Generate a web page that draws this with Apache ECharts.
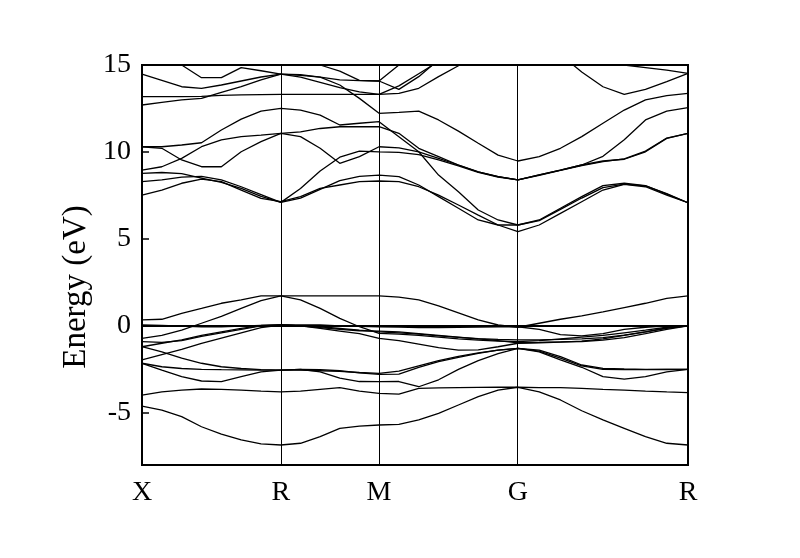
<!DOCTYPE html>
<html>
<head>
<meta charset="utf-8">
<script src="https://cdn.jsdelivr.net/npm/echarts@6/dist/echarts.min.js"></script>
<style>
  html, body { margin: 0; padding: 0; background: #fff; }
  #main { width: 800px; height: 558px; }
</style>
</head>
<body>
<div id="main"></div>
<script>
// k path X-R-M-G-R (distances in 2pi/a), sampling grid
const kPath = [0, 0.1010, 0.2020, 0.3030, 0.4041, 0.5051, 0.6061, 0.7071,
  0.8071, 0.9071, 1.0071, 1.1071, 1.2071,
  1.3081, 1.4091, 1.5101, 1.6112, 1.7122, 1.8132, 1.9142,
  2.0225, 2.1307, 2.2390, 2.3472, 2.4555, 2.5637, 2.6720, 2.7802]
const kTicks = [0, 0.7071, 1.2071, 1.9142, 2.7802]
const kLabels = ['X', 'R', 'M', 'G', 'R']
const energyTicks = [-5, 0, 5, 10, 15]

// conduction bands (eV)
const c1 = [7.52, 7.81, 8.20, 8.44, 8.29, 7.81, 7.33, 7.14, 7.43, 7.91, 8.10, 8.29, 8.33, 8.29, 8.00, 7.52, 6.95, 6.37, 5.80, 5.42, 5.80, 6.47, 7.14, 7.81, 8.14, 8.00, 7.52, 7.08]
const c2 = [8.77, 8.82, 8.75, 8.50, 8.25, 7.90, 7.45, 7.10, 7.35, 7.85, 8.35, 8.60, 8.67, 8.58, 8.10, 7.43, 6.76, 6.09, 5.80, 5.80, 6.09, 6.76, 7.43, 8.06, 8.20, 8.06, 7.58, 7.08]
const c3 = [8.29, 8.40, 8.55, 8.60, 8.40, 8.00, 7.55, 7.10, 7.90, 8.90, 9.70, 10.05, 10.01, 9.98, 9.85, 9.55, 9.20, 8.83, 8.56, 8.39, 8.66, 8.94, 9.22, 9.45, 9.60, 10.05, 10.80, 11.07]
const c4 = [8.96, 9.15, 9.63, 10.30, 10.69, 10.88, 10.97, 11.07, 10.88, 10.21, 9.35, 9.73, 10.30, 10.24, 10.01, 9.63, 9.25, 8.86, 8.58, 8.39, 8.68, 8.96, 9.25, 9.48, 9.58, 10.01, 10.78, 11.07]
const c5 = [10.30, 10.21, 9.54, 9.15, 9.15, 10.01, 10.59, 11.07, 11.15, 11.35, 11.45, 11.45, 11.45, 11.07, 10.21, 9.73, 9.25, 8.86, 8.58, 8.39, 8.68, 8.96, 9.25, 9.75, 10.70, 11.84, 12.35, 12.55]
const c6 = [10.30, 10.30, 10.40, 10.53, 11.26, 11.89, 12.35, 12.51, 12.41, 12.12, 11.55, 11.65, 11.74, 10.88, 10.01, 8.67, 7.71, 6.66, 6.09, 5.80, 6.05, 6.70, 7.35, 7.95, 8.15, 8.05, 7.60, 7.08]
const c7 = [15.30, 15.15, 15.00, 14.27, 14.27, 14.85, 14.67, 14.48, 14.40, 14.30, 13.85, 13.08, 12.22, 12.28, 12.35, 11.84, 11.20, 10.50, 9.82, 9.48, 9.73, 10.21, 10.88, 11.65, 12.41, 12.99, 13.24, 13.37]
const c8 = [13.18, 13.18, 13.18, 13.20, 13.25, 13.28, 13.30, 13.31, 13.31, 13.31, 13.31, 13.31, 13.31, 13.37, 13.66, 14.33, 14.96, 15.60, 16.20, 16.50, 16.20, 15.60, 14.60, 13.75, 13.31, 13.60, 14.05, 14.52]
const c9 = [12.70, 12.85, 12.99, 13.08, 13.43, 13.75, 14.14, 14.48, 14.30, 14.00, 13.70, 13.45, 13.31, 13.80, 14.50, 15.20, 15.80, 16.30, 16.60, 16.80, 16.60, 16.40, 16.00, 15.60, 15.00, 14.85, 14.70, 14.52]
const c10 = [14.48, 14.12, 13.75, 13.66, 13.85, 14.08, 14.31, 14.48, 14.45, 14.30, 14.15, 14.10, 14.08, 13.60, 14.33, 15.30, 15.80, 16.20, 16.50, 16.80, 16.90, 17.00, 17.00, 16.80, 16.50, 16.00, 15.60, 15.30]
const c11 = [16.50, 16.30, 16.10, 15.90, 15.70, 15.50, 15.30, 15.20, 15.30, 15.00, 14.65, 14.12, 14.08, 15.00, 15.60, 16.00, 16.30, 16.60, 16.80, 17.00, 17.00, 17.00, 17.00, 16.90, 16.70, 16.40, 16.00, 15.50]

// valence bands (eV)
const v1 = [0.34, 0.38, 0.72, 1.00, 1.30, 1.50, 1.72, 1.73, 1.73, 1.73, 1.73, 1.73, 1.73, 1.65, 1.49, 1.15, 0.75, 0.35, 0.05, -0.08, 0.15, 0.38, 0.58, 0.80, 1.05, 1.30, 1.58, 1.73]
const v2 = [-0.72, -0.55, -0.25, 0.15, 0.55, 1.00, 1.45, 1.73, 1.49, 1.01, 0.43, -0.05, -0.43, -0.48, -0.55, -0.65, -0.75, -0.82, -0.88, -0.91, -0.85, -0.75, -0.65, -0.55, -0.40, -0.25, -0.08, 0.00]
const v3 = [0.05, 0.02, -0.02, -0.05, -0.05, -0.02, 0.02, 0.05, 0.05, 0.05, 0.00, -0.03, -0.05, -0.07, -0.10, -0.10, -0.09, -0.07, -0.05, -0.05, -0.20, -0.50, -0.58, -0.45, -0.20, -0.08, 0.00, 0.00]
const v4 = [-0.91, -0.95, -0.85, -0.60, -0.40, -0.20, 0.00, 0.05, 0.00, -0.15, -0.30, -0.45, -0.72, -0.85, -1.05, -1.25, -1.40, -1.38, -1.20, -1.00, -0.97, -0.93, -0.88, -0.75, -0.55, -0.35, -0.15, 0.00]
const v5 = [-1.20, -1.00, -0.80, -0.55, -0.35, -0.15, 0.02, 0.05, 0.00, -0.05, -0.15, -0.25, -0.34, -0.40, -0.48, -0.58, -0.66, -0.74, -0.78, -0.81, -0.80, -0.78, -0.75, -0.68, -0.53, -0.35, -0.12, 0.00]
const v6 = [-1.96, -1.65, -1.35, -1.00, -0.70, -0.40, -0.10, 0.05, 0.00, -0.10, -0.20, -0.28, -0.30, -0.35, -0.45, -0.55, -0.65, -0.75, -0.85, -0.97, -0.95, -0.92, -0.90, -0.82, -0.68, -0.45, -0.20, 0.00]
const v7 = [-1.20, -1.49, -1.85, -2.15, -2.35, -2.45, -2.52, -2.54, -2.50, -2.52, -2.58, -2.70, -2.79, -2.77, -2.38, -2.06, -1.81, -1.58, -1.39, -1.29, -1.39, -1.77, -2.25, -2.44, -2.48, -2.50, -2.50, -2.50]
const v8 = [-2.15, -2.54, -2.92, -3.17, -3.21, -2.92, -2.64, -2.54, -2.50, -2.64, -3.00, -3.20, -3.21, -3.20, -3.50, -3.10, -2.50, -2.00, -1.60, -1.29, -1.49, -1.96, -2.38, -2.92, -3.06, -2.92, -2.64, -2.50]
const v9 = [-3.98, -3.79, -3.69, -3.63, -3.65, -3.69, -3.75, -3.79, -3.75, -3.65, -3.55, -3.75, -3.88, -3.92, -3.59, -3.57, -3.55, -3.54, -3.53, -3.53, -3.55, -3.55, -3.59, -3.65, -3.69, -3.75, -3.80, -3.84]
const v10 = [-4.61, -4.84, -5.22, -5.80, -6.22, -6.56, -6.79, -6.85, -6.75, -6.37, -5.89, -5.76, -5.70, -5.66, -5.41, -5.03, -4.55, -4.07, -3.69, -3.53, -3.79, -4.26, -4.88, -5.41, -5.89, -6.37, -6.75, -6.85]
const v11 = [-2.15, -2.35, -2.45, -2.50, -2.52, -2.53, -2.54, -2.54, -2.55, -2.58, -2.62, -2.68, -2.73, -2.60, -2.30, -2.00, -1.75, -1.55, -1.40, -1.29, -1.45, -1.85, -2.30, -2.50, -2.52, -2.52, -2.51, -2.50]

const bands = [c1, c2, c3, c4, c5, c6, c7, c8, c9, c10, c11,
  v1, v2, v3, v4, v5, v6, v7, v8, v9, v10, v11]

const font = 'Liberation Serif'
const chart = echarts.init(document.getElementById('main'))

const series = bands.map(b => ({
  type: 'line',
  data: b.map((e, j) => [kPath[j], e]),
  showSymbol: false,
  silent: true,
  clip: true,
  lineStyle: { color: '#000', width: 1.3 }
}))

// vertical lines at the inner high-symmetry points
series[0].markLine = {
  silent: true,
  symbol: 'none',
  label: { show: false },
  lineStyle: { color: '#000', width: 1, type: 'solid' },
  data: kTicks.slice(1, 4).map(k => ({ xAxis: k }))
}

chart.setOption({
  animation: false,
  backgroundColor: '#fff',
  grid: {
    left: 142, right: 112, top: 65, bottom: 93,
    show: true, borderColor: '#000', borderWidth: 2
  },
  graphic: [{
    type: 'text',
    x: 76,
    y: 287,
    rotation: Math.PI / 2,
    style: {
      text: 'Energy (eV)',
      font: '33px "Liberation Serif"',
      fill: '#000',
      align: 'center',
      verticalAlign: 'middle'
    }
  }],
  xAxis: {
    type: 'value',
    min: 0,
    max: kTicks[kTicks.length - 1],
    axisLine: { show: true, lineStyle: { color: '#000', width: 2 } },
    axisTick: { show: false },
    splitLine: { show: false },
    axisLabel: {
      customValues: kTicks,
      margin: 14,
      color: '#000',
      fontFamily: font,
      fontSize: 28,
      formatter: v => kLabels[kTicks.findIndex(t => Math.abs(t - v) < 1e-6)] || ''
    }
  },
  yAxis: {
    type: 'value',
    min: -8,
    max: 15,
    axisLine: { show: true, lineStyle: { color: '#000', width: 2 } },
    axisTick: { show: true, inside: true, length: 7, customValues: energyTicks, lineStyle: { color: '#000', width: 1.5 } },
    splitLine: { show: false },
    axisLabel: {
      customValues: energyTicks,
      margin: 11,
      color: '#000',
      fontFamily: font,
      fontSize: 28
    }
  },
  series: series
})
</script>
</body>
</html>
